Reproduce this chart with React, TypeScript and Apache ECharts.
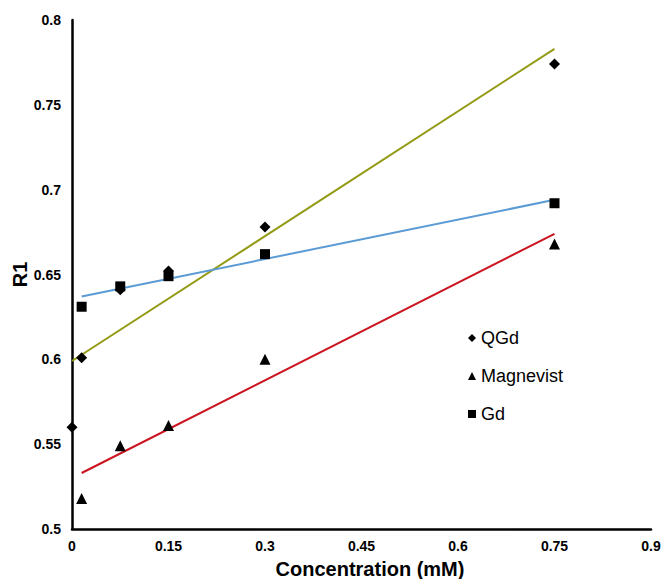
import React, { useEffect, useRef } from "react";
import * as echarts from "echarts";

const xTicks = [0, 0.15, 0.3, 0.45, 0.6, 0.75, 0.9];
const qgdX = [0, 0.015, 0.075, 0.15, 0.3, 0.75];
const qgdY = [0.56, 0.601, 0.641, 0.652, 0.678, 0.774];
const magX = [0.015, 0.075, 0.15, 0.3, 0.75];
const magY = [0.518, 0.549, 0.561, 0.6, 0.668];
const gdX = [0.015, 0.075, 0.15, 0.3, 0.75];
const gdY = [0.631, 0.643, 0.649, 0.662, 0.692];
// trend line endpoints [x0, y0, x1, y1]
const qgdTrend = [0, 0.599, 0.75, 0.783];
const magTrend = [0.015, 0.533, 0.75, 0.674];
const gdTrend = [0.015, 0.637, 0.75, 0.694];

const zip = (xs: number[], ys: number[]) => xs.map((x, i) => [x, ys[i]]);
const seg = (t: number[]) => [[t[0], t[1]], [t[2], t[3]]];

export default function App() {
  const ref = useRef<HTMLDivElement>(null);
  useEffect(() => {
    document.body.style.margin = "0";
    const chart = echarts.init(ref.current!, null, { renderer: "svg" });
    const lineSeries = (name: string, data: number[][], color: string) => ({
      type: "line",
      name,
      data,
      symbol: "none",
      lineStyle: { color, width: 2 },
      z: 1,
      silent: true,
    });
    const scatter = (name: string, data: number[][], symbol: string, size: number) => ({
      type: "scatter",
      name,
      data,
      symbol,
      symbolSize: size,
      itemStyle: { color: "#000", opacity: 1 },
      z: 3,
    });
    chart.setOption({
      animation: false,
      backgroundColor: "#fff",
      textStyle: { fontFamily: "Liberation Sans, Arial, sans-serif" },
      grid: { left: 72, right: 10, top: 20, bottom: 50, containLabel: false, outerBoundsMode: "none" },
      legend: {
        data: [
          { name: "QGd", icon: "diamond" },
          { name: "Magnevist", icon: "triangle" },
          { name: "Gd", icon: "rect" },
        ],
        orient: "vertical",
        left: 463,
        top: 324,
        itemWidth: 8,
        itemHeight: 8,
        itemGap: 20,
        textStyle: { fontSize: 18, color: "#000", fontFamily: "Liberation Sans, Arial, sans-serif" },
      },
      xAxis: {
        type: "value",
        min: 0,
        max: 0.9,
        interval: 0.15,
        name: "Concentration (mM)",
        nameLocation: "middle",
        nameGap: 30,
        nameTextStyle: { fontSize: 20, fontWeight: "bold", color: "#000", padding: [0, 0, 0, 17] },
        axisLine: { lineStyle: { color: "#000", width: 2.5 } },
        axisTick: { show: false },
        splitLine: { show: false },
        axisLabel: {
          fontSize: 14,
          fontWeight: "bold",
          color: "#000",
          margin: 10,
          formatter: (v: number) => {
            const t = xTicks.find((x) => Math.abs(x - v) < 1e-6);
            return t === undefined ? "" : String(t);
          },
        },
      },
      yAxis: {
        type: "value",
        min: 0.5,
        max: 0.8,
        interval: 0.05,
        name: "R1",
        nameLocation: "middle",
        nameGap: 42,
        nameMoveOverlap: false,
        nameTextStyle: { fontSize: 20, fontWeight: "bold", color: "#000" },
        axisLine: { show: true, lineStyle: { color: "#000", width: 2.5 } },
        axisTick: { show: false },
        splitLine: { show: false },
        axisLabel: {
          fontSize: 14,
          fontWeight: "bold",
          color: "#000",
          margin: 11,
          formatter: (v: number) => String(Math.round(v * 100) / 100),
        },
      },
      series: [
        lineSeries("QGd trend", seg(qgdTrend), "#949a14"),
        lineSeries("Gd trend", seg(gdTrend), "#5b9bd5"),
        lineSeries("Magnevist trend", seg(magTrend), "#cc1420"),
        scatter("QGd", zip(qgdX, qgdY), "diamond", 11),
        scatter("Magnevist", zip(magX, magY), "triangle", 11),
        scatter("Gd", zip(gdX, gdY), "rect", 10),
      ],
    });
    return () => chart.dispose();
  }, []);
  return <div ref={ref} style={{ width: 661, height: 579 }} />;
}
